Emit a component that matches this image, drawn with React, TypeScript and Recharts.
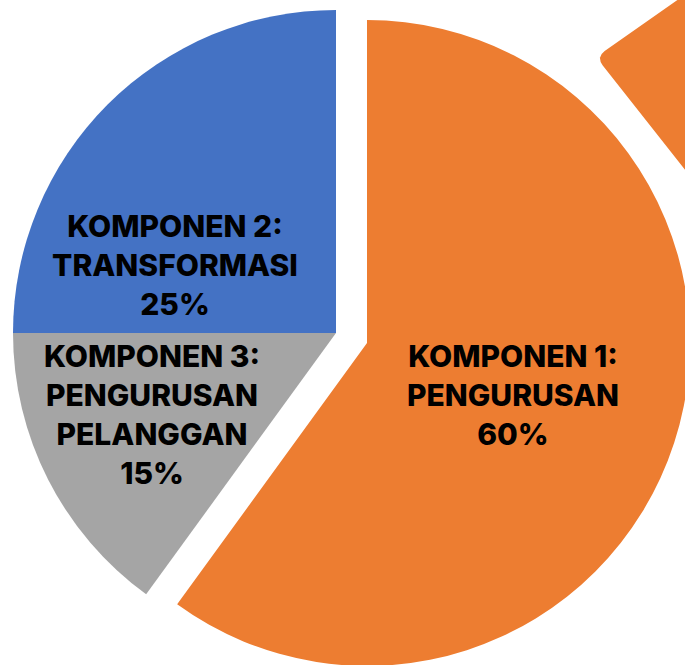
import React from "react";
import { PieChart, Pie, Cell } from "recharts";

const categories = [
  "KOMPONEN 1: PENGURUSAN",
  "KOMPONEN 3: PENGURUSAN PELANGGAN",
  "KOMPONEN 2: TRANSFORMASI",
];
const labelLines = [
  ["KOMPONEN 1:", "PENGURUSAN"],
  ["KOMPONEN 3:", "PENGURUSAN", "PELANGGAN"],
  ["KOMPONEN 2:", "TRANSFORMASI"],
];
const values = [60, 15, 25];
const colors = ["#ED7D31", "#A5A5A5", "#4472C4"];
const decorValues = [1];

const data = categories.map((name, i) => ({ name, value: values[i] }));
const decorData = decorValues.map((v) => ({ name: "decor", value: v }));
const total = values.reduce((a, b) => a + b, 0);

// label placement relative to the slice's pie centre (first baseline)
const LABEL_OFFSETS = [
  { dx: 146, dy: 24 },
  { dx: -184, dy: 34 },
  { dx: -161, dy: -96 },
];
const LINE_H = 39;
const FONT = "Inter, 'Open Sans', sans-serif";

const makeLabel = (show: number[]) => (props: any) => {
  const { cx, cy, index } = props;
  if (!show.includes(index)) return <g key={`empty-${index}`} />;
  const off = LABEL_OFFSETS[index];
  const lines = [...labelLines[index], `${Math.round((values[index] / total) * 100)}%`];
  const x = cx + off.dx;
  const y = cy + off.dy;
  return (
    <text
      key={`lbl-${index}`}
      x={x}
      y={y}
      textAnchor="middle"
      fontFamily={FONT}
      fontWeight={800}
      fontSize={30}
      fill="#000"
    >
      {lines.map((l, i) => (
        <tspan key={i} x={x} y={y + i * LINE_H}>
          {l}
        </tspan>
      ))}
    </text>
  );
};

export default function App() {
  return (
    <div
      style={{
        position: "absolute",
        left: 0,
        top: 0,
        width: 685,
        height: 665,
        overflow: "hidden",
        background: "#fff",
      }}
    >
      <PieChart width={685} height={665} margin={{ top: 0, right: 0, bottom: 0, left: 0 }}>
        <Pie
          data={decorData}
          dataKey="value"
          cx={596}
          cy={57}
          startAngle={35}
          endAngle={-51.7}
          innerRadius={4}
          outerRadius={300}
          cornerRadius={12}
          stroke="none"
          fill={colors[0]}
          isAnimationActive={false}
          labelLine={false}
        />
        <Pie
          data={data}
          dataKey="value"
          nameKey="name"
          cx={336}
          cy={333}
          outerRadius={323}
          startAngle={90}
          endAngle={-270}
          stroke="none"
          isAnimationActive={false}
          labelLine={false}
          label={makeLabel([1, 2])}
        >
          {data.map((d, i) => (
            <Cell key={d.name} fill={i === 0 ? "transparent" : colors[i]} />
          ))}
        </Pie>
        <Pie
          data={data}
          dataKey="value"
          nameKey="name"
          cx={367}
          cy={343}
          outerRadius={323}
          startAngle={90}
          endAngle={-270}
          stroke="none"
          isAnimationActive={false}
          labelLine={false}
          label={makeLabel([0])}
        >
          {data.map((d, i) => (
            <Cell key={d.name} fill={i === 0 ? colors[i] : "transparent"} />
          ))}
        </Pie>
      </PieChart>
    </div>
  );
}
